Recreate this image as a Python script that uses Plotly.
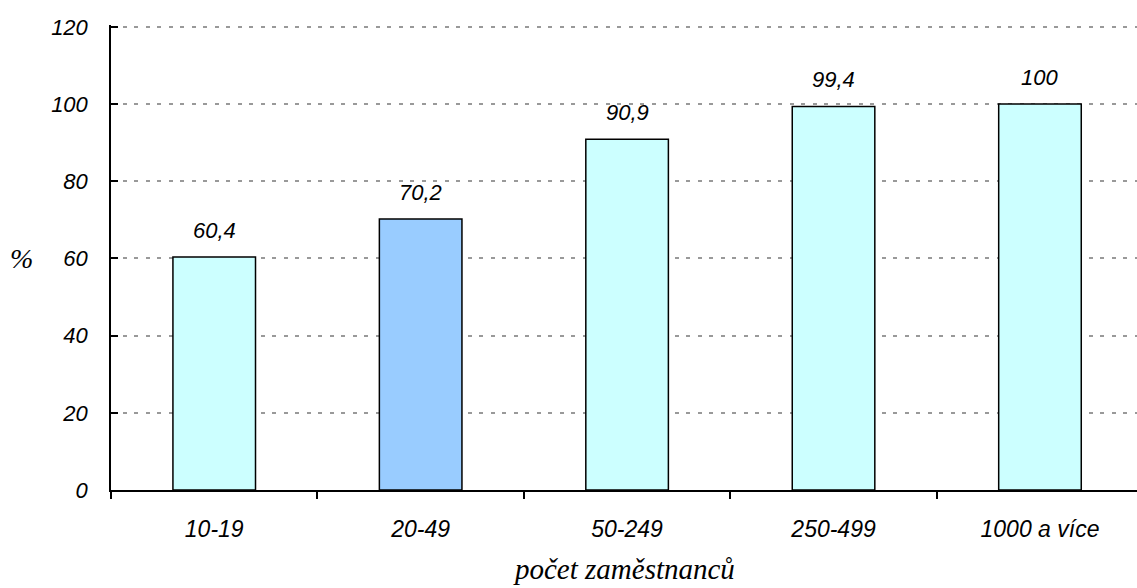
import plotly.graph_objects as go

# Share of enterprises by number of employees (%)
categories = ["10-19", "20-49", "50-249", "250-499", "1000 a více"]
values = [60.4, 70.2, 90.9, 99.4, 100]
bar_colors = ["#CCFFFF", "#99CCFF", "#CCFFFF", "#CCFFFF", "#CCFFFF"]
y_ticks = [0, 20, 40, 60, 80, 100, 120]

sans = "Liberation Sans, Arial, sans-serif"
serif = "Liberation Serif, Times New Roman, serif"


def fmt(v):
    # Czech decimal comma, integers without decimals
    return f"{v:g}".replace(".", ",")


fig = go.Figure(
    go.Bar(
        x=categories,
        y=values,
        width=0.4,
        marker=dict(color=bar_colors, line=dict(color="black", width=1.5)),
        hoverinfo="x+y",
    )
)

# value labels above each bar
value_labels = [
    dict(
        x=c, y=v, xref="x", yref="y",
        text=fmt(v),
        showarrow=False,
        xanchor="center", yanchor="bottom",
        yshift=12,
        font=dict(family=sans, size=22, color="black", style="italic"),
    )
    for c, v in zip(categories, values)
]

fig.update_layout(
    width=1137,
    height=588,
    margin=dict(l=111, r=0, t=25, b=98),
    plot_bgcolor="white",
    paper_bgcolor="white",
    showlegend=False,
    font=dict(family=sans, size=22, color="black", style="italic"),
    annotations=value_labels + [
        dict(
            text="počet zaměstnanců",
            xref="paper", yref="paper",
            x=0.5, y=-0.17,
            xanchor="center", yanchor="middle",
            showarrow=False,
            font=dict(family=serif, size=29, color="black", style="italic"),
        ),
        dict(
            text="%",
            xref="paper", yref="y",
            x=-0.087, y=60,
            xanchor="center", yanchor="middle",
            showarrow=False,
            font=dict(family=serif, size=28, color="black", style="italic"),
        ),
    ],
)

fig.update_xaxes(
    type="category",
    range=[-0.5, 4.47],
    showline=True,
    linecolor="black",
    linewidth=1.5,
    ticks="outside",
    tickson="boundaries",
    ticklen=7,
    tickcolor="black",
    tickwidth=1.5,
    ticklabelstandoff=18,
    showgrid=False,
    tickfont=dict(family=sans, size=23, style="italic"),
)

fig.update_yaxes(
    range=[0, 120.5],
    tickvals=y_ticks,
    showline=True,
    linecolor="black",
    linewidth=1.5,
    ticks="inside",
    ticklen=7,
    tickcolor="black",
    tickwidth=1.5,
    ticklabelstandoff=17,
    showgrid=True,
    gridcolor="#999999",
    gridwidth=2,
    griddash="4px,7.5px",
    zeroline=False,
    tickfont=dict(family=sans, size=22, style="italic"),
)

fig.write_html("out.html")
